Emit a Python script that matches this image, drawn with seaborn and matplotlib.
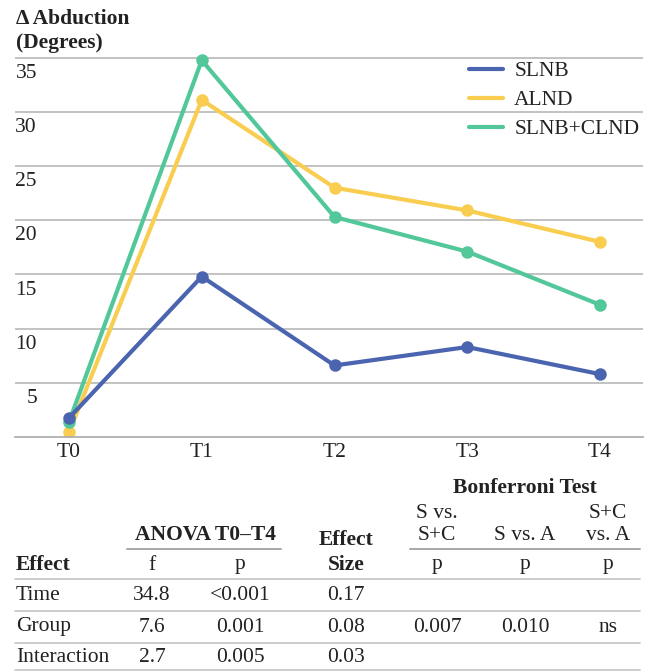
# Delta abduction over time by surgery group, with ANOVA table below

import pandas as pd
import matplotlib
matplotlib.use("Agg")
import matplotlib.pyplot as plt
import matplotlib.transforms as mtransforms
import seaborn as sns
from matplotlib.lines import Line2D

# Data
times = ["T0", "T1", "T2", "T3", "T4"]
groups = ["SLNB", "ALND", "SLNB+CLND"]
slnb = [1.75, 14.8, 6.6, 8.3, 5.8]
alnd = [0.45, 31.1, 23.0, 20.9, 18.0]
slnb_clnd = [1.4, 34.75, 20.3, 17.1, 12.2]
colors = ["#4a64b0", "#f9cd50", "#52c79a"]
y_ticks = [5, 10, 15, 20, 25, 30, 35]

# Table data
effects = ["Time", "Group", "Interaction"]
anova_f = ["34.8", "7.6", "2.7"]
anova_p = ["<0.001", "0.001", "0.005"]
effect_size = ["0.17", "0.08", "0.03"]
bonf_s_sc = ["", "0.007", ""]
bonf_s_a = ["", "0.010", ""]
bonf_sc_a = ["", "ns", ""]

rows = []
for g, vals in zip(groups, [slnb, alnd, slnb_clnd]):
    for i, v in enumerate(vals):
        rows.append({"group": g, "t": i, "value": v})
df = pd.DataFrame(rows)

sns.set_theme(style="white")
plt.rcParams["font.family"] = ["Liberation Serif", "DejaVu Serif"]
plt.rcParams["text.color"] = "#222222"
FS = 15.5
W, H = 654, 672


def fx(x):
    return x / W


def fy(y):
    return 1 - y / H


fig = plt.figure(figsize=(6.54, 6.72), dpi=100)
ax = fig.add_axes([fx(15), fy(437), 628 / W, 387 / H])

sns.lineplot(data=df, x="t", y="value", hue="group", hue_order=groups,
             palette=colors, marker="o", markersize=9, markeredgewidth=0,
             linewidth=3, legend=False, ax=ax)
# blue line sits on top at T0
ax.lines[0].set_zorder(5)

ax.set_xlim(-0.407, 4.324)
ax.set_ylim(0, 35.7)
ax.set_xlabel("")
ax.set_ylabel("")
ax.set_yticks(y_ticks)
ax.tick_params(axis="y", length=0, labelleft=False)
ax.yaxis.grid(True, color="#bdbdbd", linewidth=1.3)
ax.set_xticks(range(len(times)), times)
ax.tick_params(axis="x", direction="in", length=8.5, color="#b0b0b0",
               width=1, pad=4, labelsize=FS, labelcolor="#222222")
for s in ["left", "right", "top"]:
    ax.spines[s].set_visible(False)
ax.spines["bottom"].set_color("#b0b0b0")
ax.spines["bottom"].set_linewidth(1.3)

# y labels sit just under their gridlines
trans = mtransforms.blended_transform_factory(ax.transAxes, ax.transData)
for v in y_ticks:
    ax.text(0.035, v - 1.45, str(v), transform=trans, ha="right",
            va="center", fontsize=FS)

handles = [Line2D([0], [0], color=c, lw=3) for c in colors]
ax.legend(handles, groups, loc="upper left", bbox_to_anchor=(fx(469), fy(61)),
          bbox_transform=fig.transFigure, frameon=False, fontsize=FS,
          handlelength=1.6, handletextpad=0.5, labelspacing=0.42,
          borderpad=0, borderaxespad=0)

fig.text(fx(16), fy(19), "\u0394 Abduction", ha="left", va="center",
         fontsize=FS, fontweight="bold")
fig.text(fx(16), fy(43), "(Degrees)", ha="left", va="center",
         fontsize=FS, fontweight="bold")

# Table
def t(x, y, s, ha="center", bold=False):
    fig.text(fx(x), fy(y), s, ha=ha, va="center", fontsize=FS,
             fontweight="bold" if bold else "normal")


def hline(x0, x1, y, color="#c8c8c8", lw=1.3):
    fig.add_artist(Line2D([fx(x0), fx(x1)], [fy(y), fy(y)], color=color, lw=lw))


t(525, 488, "Bonferroni Test", bold=True)
t(437, 513, "S vs.")
t(437, 535, "S+C")
t(525, 535, "S vs. A")
t(608, 513, "S+C")
t(608, 535, "vs. A")
t(205, 535, "ANOVA T0\u2013T4", bold=True)
t(346, 540, "Effect", bold=True)
t(346, 565, "Size", bold=True)
t(16, 565, "Effect", ha="left", bold=True)
t(152, 565, "f")
t(240, 565, "p")
for xc in [437, 525, 608]:
    t(xc, 565, "p")
hline(127, 281, 549, color="#a0a0a0")
hline(410, 640, 549, color="#a0a0a0")

row_y = [595, 627, 657]
for i, y in enumerate(row_y):
    t(16, y, effects[i], ha="left")
    t(152, y, anova_f[i])
    t(240, y, anova_p[i])
    t(346, y, effect_size[i])
    t(437, y, bonf_s_sc[i])
    t(525, y, bonf_s_a[i])
    t(608, y, bonf_sc_a[i])

for y in [579, 611, 643, 670]:
    hline(15, 640, y)

fig.savefig("out.png", dpi=100)
